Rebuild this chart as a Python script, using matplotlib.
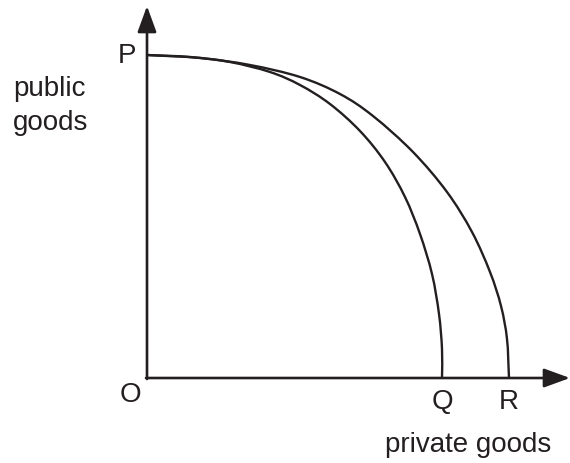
import matplotlib
matplotlib.use("Agg")
import matplotlib.pyplot as plt
from matplotlib.path import Path
from matplotlib.patches import PathPatch
import numpy as np

plt.rcParams['font.family'] = ['Liberation Sans', 'DejaVu Sans']

ink = '#231f20'

# curve points, measured from origin O (x to the right, y upwards)
inner_x = [0, 43, 83, 123, 153, 183, 213, 238, 258, 273, 285, 292, 295, 295]
inner_y = [323, 321, 316, 306, 293, 274, 247, 216, 181, 144, 104, 64, 29, 0]
outer_x = [0, 53, 103, 153, 193, 226, 266, 300, 325, 343, 354, 360, 362]
outer_y = [323, 320, 313, 301, 284, 262, 226, 186, 146, 106, 72, 39, 0]

axis_top = 372
axis_right = 423


def smooth_path(xs, ys):
    # Catmull-Rom through the points, drawn as cubic Bezier segments
    pts = np.column_stack([xs, ys]).astype(float)
    p = np.vstack([2 * pts[0] - pts[1], pts, 2 * pts[-1] - pts[-2]])
    verts = [p[1]]
    codes = [Path.MOVETO]
    for i in range(1, len(p) - 2):
        c1 = p[i] + (p[i + 1] - p[i - 1]) / 6
        c2 = p[i + 1] - (p[i + 2] - p[i]) / 6
        verts += [c1, c2, p[i + 1]]
        codes += [Path.CURVE4] * 3
    return Path(verts, codes)


fig = plt.figure(figsize=(5.7, 4.64), dpi=100)
ax = fig.add_axes([0, 0, 1, 1])
ax.set_xlim(-147, 423)
ax.set_ylim(-85, 379)
ax.axis('off')

for xs, ys in [(inner_x, inner_y), (outer_x, outer_y)]:
    ax.add_patch(PathPatch(smooth_path(xs, ys), facecolor='none', edgecolor=ink,
                           lw=1.7, capstyle='butt'))

arrow = dict(arrowstyle='-|>,head_length=0.55,head_width=0.2', mutation_scale=29,
             color=ink, lw=1.9, shrinkA=0, shrinkB=0)
ax.annotate('', xy=(0, axis_top), xytext=(0, -1), arrowprops=arrow, annotation_clip=False)
ax.annotate('', xy=(axis_right, 0), xytext=(-1, 0), arrowprops=arrow, annotation_clip=False)

fs = 20
ax.text(-20, 323, 'P', fontsize=fs, color=ink, ha='center', va='center')
ax.text(-17, -16, 'O', fontsize=fs, color=ink, ha='center', va='center')
ax.text(295, -23, 'Q', fontsize=fs, color=ink, ha='center', va='center')
ax.text(362, -23, 'R', fontsize=fs, color=ink, ha='center', va='center')
ax.text(-134, 273, 'public\ngoods', fontsize=fs, color=ink, ha='left', va='center',
        linespacing=1.45)
ax.text(321, -66, 'private goods', fontsize=fs, color=ink, ha='center', va='center')

fig.savefig('out.png', dpi=100)
